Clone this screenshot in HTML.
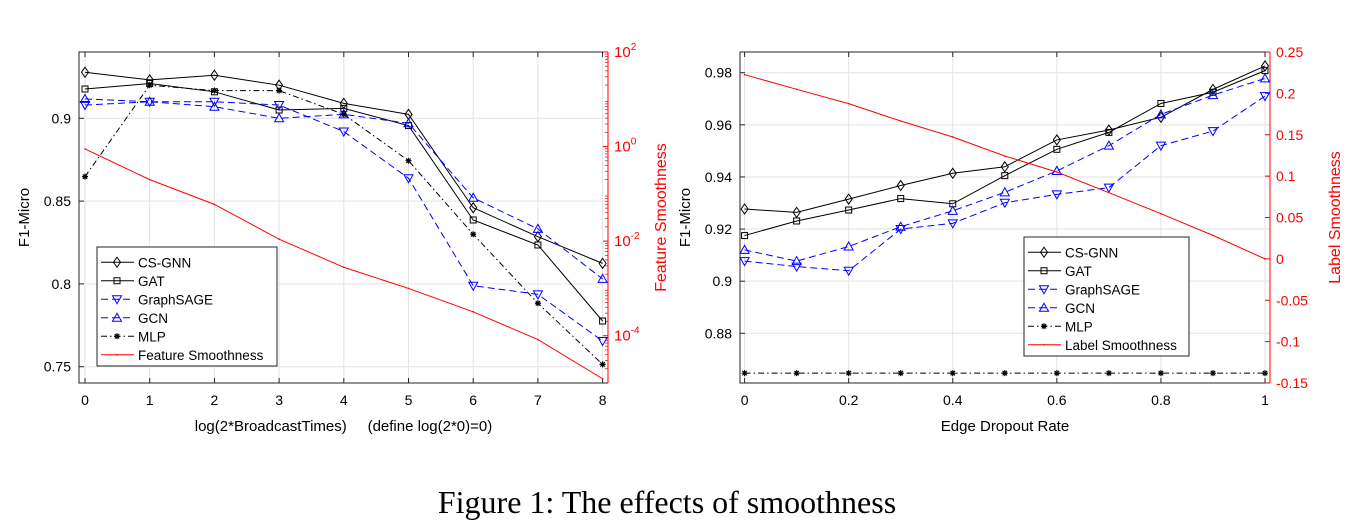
<!DOCTYPE html>
<html><head><meta charset="utf-8"><style>
body{margin:0;background:#fff;width:1360px;height:532px;overflow:hidden}
svg{display:block}
text{font-family:"Liberation Sans",sans-serif}
</style></head><body>
<svg id="s" width="1360" height="532" xmlns="http://www.w3.org/2000/svg">
<text x="667" y="513" text-anchor="middle" style="font-family:'Liberation Serif',serif" font-size="32" fill="#000">Figure 1: The effects of smoothness</text>
</svg>
<script>
// Left chart data
const leftX=[0,1,2,3,4,5,6,7,8];
const leftCSGNN=[0.9278,0.9232,0.926,0.920,0.909,0.9024,0.846,0.8285,0.8124];
const leftGAT=[0.9177,0.921,0.916,0.905,0.906,0.8956,0.8386,0.8235,0.7776];
const leftSAGE=[0.908,0.910,0.910,0.908,0.892,0.8638,0.7989,0.7937,0.7655];
const leftGCN=[0.9117,0.910,0.907,0.900,0.9024,0.897,0.852,0.8332,0.803];
const leftMLP=[0.8648,0.920,0.9167,0.9167,0.9024,0.8744,0.830,0.7883,0.7514];
const leftSmooth=[0.89,0.2,0.06,0.011,0.0028,0.001,0.00032,0.000083,0.0000123];
const leftYTicks=[0.75,0.8,0.85,0.9];
const leftY2Exps=[2,0,-2,-4];
// Right chart data
const rightX=[0,0.1,0.2,0.3,0.4,0.5,0.6,0.7,0.8,0.9,1];
const rightCSGNN=[0.9277,0.9264,0.9315,0.9367,0.9414,0.9439,0.9542,0.958,0.9629,0.9736,0.9826];
const rightGAT=[0.9175,0.9231,0.9273,0.9317,0.9297,0.9405,0.9506,0.9571,0.9682,0.9725,0.9808];
const rightSAGE=[0.9077,0.9056,0.904,0.920,0.9222,0.9301,0.9333,0.9359,0.952,0.9576,0.971];
const rightGCN=[0.912,0.9077,0.9133,0.9209,0.927,0.9341,0.9423,0.952,0.964,0.9714,0.9778];
const rightMLP=[0.8647,0.8647,0.8647,0.8647,0.8647,0.8647,0.8647,0.8647,0.8647,0.8647,0.8647];
const rightSmooth=[0.2226,0.2049,0.1876,0.1666,0.1473,0.1243,0.105,0.08,0.0546,0.0284,0.0];
const rightYTicks=[0.88,0.9,0.92,0.94,0.96,0.98];
const rightY2Ticks=[-0.15,-0.1,-0.05,0,0.05,0.1,0.15,0.2,0.25];
const rightXTicks=[0,0.2,0.4,0.6,0.8,1];

const svg=document.getElementById('s');
const NS='http://www.w3.org/2000/svg';
function el(tag,attrs,parent){const e=document.createElementNS(NS,tag);for(const k in attrs)e.setAttribute(k,attrs[k]);(parent||svg).appendChild(e);return e;}
function txt(x,y,s,attrs,parent){const e=el('text',Object.assign({x:x,y:y,'font-size':14,fill:'#000'},attrs),parent);e.textContent=s;return e;}

function marker(g,type,x,y,color){
  let m;
  if(type==='diamond')m=el('polygon',{points:`${x},${y-5} ${x+3.5},${y} ${x},${y+5} ${x-3.5},${y}`,fill:'none',stroke:color,'stroke-width':1},g);
  else if(type==='square')m=el('rect',{x:x-3,y:y-3,width:6,height:6,fill:'none',stroke:color,'stroke-width':1},g);
  else if(type==='down')m=el('polygon',{points:`${x-4.5},${y-3.5} ${x+4.5},${y-3.5} ${x},${y+4.5}`,fill:'none',stroke:color,'stroke-width':1},g);
  else if(type==='up')m=el('polygon',{points:`${x-4.5},${y+3.5} ${x+4.5},${y+3.5} ${x},${y-4.5}`,fill:'none',stroke:color,'stroke-width':1},g);
  else if(type==='star')m=el('path',{d:`M${x-3},${y}H${x+3}M${x},${y-3}V${y+3}M${x-2.2},${y-2.2}L${x+2.2},${y+2.2}M${x-2.2},${y+2.2}L${x+2.2},${y-2.2}`,stroke:color,'stroke-width':1.2},g);
  else m=el('circle',{cx:x,cy:y,r:0.8,fill:color},g);
  
  
}

function drawChart(cfg){
  const g=el('g',{});
  
  
  const L=cfg.L,R=cfg.R,T=cfg.T,B=cfg.B;
  const xs=v=>cfg.x0+(v-cfg.xmin)/(cfg.xmax-cfg.xmin)*(cfg.x1-cfg.x0);
  const ys=v=>B-(v-cfg.ymin)/(cfg.ymax-cfg.ymin)*(B-T);
  const y2=cfg.y2;
  cfg.xTicks.forEach(v=>{const l=el('line',{x1:xs(v),x2:xs(v),y1:T,y2:B,stroke:'#e3e3e3','stroke-width':1},g);});
  cfg.yTicks.forEach(v=>{const l=el('line',{x1:L,x2:R,y1:ys(v),y2:ys(v),stroke:'#e3e3e3','stroke-width':1},g);});
  const ax=el('path',{d:`M${R},${T}H${L}V${B}H${R}`,fill:'none',stroke:'#262626','stroke-width':1},g);
  
  const ra=el('line',{x1:R,x2:R,y1:T,y2:B,stroke:'#ff0000','stroke-width':1},g);
  
  cfg.xTicks.forEach(v=>{el('line',{x1:xs(v),x2:xs(v),y1:B,y2:B-5,stroke:'#262626'},g);el('line',{x1:xs(v),x2:xs(v),y1:T,y2:T+5,stroke:'#262626'},g);
    const t=txt(xs(v),B+22,String(v),{'text-anchor':'middle'},g);});
  cfg.yTicks.forEach(v=>{el('line',{x1:L,x2:L+5,y1:ys(v),y2:ys(v),stroke:'#262626'},g);
    const t=txt(L-8,ys(v)+5,String(v),{'text-anchor':'end'},g);});
  y2.ticks.forEach(v=>{const yy=y2.tickPos(v);el('line',{x1:R,x2:R-5,y1:yy,y2:yy,stroke:'#ff0000'},g);y2.label(R+6,yy,v,g);});
  if(y2.minor)y2.minor.forEach(yy=>el('line',{x1:R,x2:R-3,y1:yy,y2:yy,stroke:'#ff0000','stroke-width':0.7},g));
  const xl=txt((L+R)/2,B+48,cfg.xlabel,{'text-anchor':'middle','font-size':15},g);
  
  const yl=txt(0,0,'F1-Micro',{'text-anchor':'middle','font-size':15,transform:`translate(${L-50},${(T+B)/2}) rotate(-90)`},g);
  
  const y2l=txt(0,0,y2.title,{'text-anchor':'middle','font-size':16,fill:'#ff0000',transform:`translate(${R+y2.titleOff},${(T+B)/2}) rotate(-90)`},g);
  
  cfg.series.forEach(s=>{
    const sg=el('g',{},g);
    
    
    const pts=cfg.xs.map((xv,i)=>[xs(xv),s.right?y2.scale(s.data[i]):ys(s.data[i])]);
    const p=el('polyline',{points:pts.map(p=>p.join(',')).join(' '),fill:'none',stroke:s.color,'stroke-width':1,'stroke-dasharray':s.dash||'none'},sg);
    
    pts.forEach(pt=>marker(sg,s.marker,pt[0],pt[1],s.color));
  });
  const lg=el('g',{},g);
  
  
  const lb=cfg.legend;
  el('rect',{x:lb.x,y:lb.y,width:lb.w,height:lb.h,fill:'#fff',stroke:'#262626','stroke-width':1},lg);
  const step=(lb.h-8)/cfg.series.length;
  cfg.series.forEach((s,i)=>{
    const yy=lb.y+6+step*(i+0.5);
    const eg=el('g',{},lg);
    
    
    el('line',{x1:lb.x+4,x2:lb.x+37,y1:yy,y2:yy,stroke:s.color,'stroke-width':1,'stroke-dasharray':s.dash||'none'},eg);
    marker(eg,s.marker,lb.x+20,yy,s.color);
    txt(lb.x+41,yy+5,s.label,{'font-size':13.5},eg);
  });
}

function supLabel(x,y,v,g){
  const t=el('text',{x:x,y:y+5,'font-size':15,fill:'#ff0000'},g);
  
  const a=document.createElementNS(NS,'tspan');a.textContent='10';t.appendChild(a);
  const b=document.createElementNS(NS,'tspan');b.setAttribute('dy','-7');b.setAttribute('font-size','10');b.textContent=String(v);t.appendChild(b);
}

(function(){
  const T=52,B=383,lmin=-5,lmax=2;
  const expPos=e=>B-(e-lmin)/(lmax-lmin)*(B-T);
  const minor=[];
  for(let d=lmin;d<lmax;d++)for(let k=2;k<10;k++)minor.push(expPos(d+Math.log10(k)));
  const per=(366.7-118.3)/0.15;
  drawChart({name:'left-chart',L:79,R:608,T:T,B:B,x0:85,x1:602.6,xmin:0,xmax:8,
    ymin:0.75-(B-366.7)/per, ymax:0.9+(118.3-T)/per,
    xs:leftX,xTicks:leftX,yTicks:leftYTicks,xlabel:'log(2*BroadcastTimes)\u00a0\u00a0\u00a0\u00a0\u00a0(define log(2*0)=0)',
    y2:{scale:v=>expPos(Math.log10(v)),tickPos:expPos,ticks:leftY2Exps,minor:minor,title:'Feature Smoothness',titleOff:58,
      label:(x,y,v,g)=>supLabel(x,y,v,g)},
    series:[
      {key:'cs-gnn',label:'CS-GNN',data:leftCSGNN,color:'#000',marker:'diamond'},
      {key:'gat',label:'GAT',data:leftGAT,color:'#000',marker:'square'},
      {key:'graphsage',label:'GraphSAGE',data:leftSAGE,color:'#0000ff',marker:'down',dash:'7,4'},
      {key:'gcn',label:'GCN',data:leftGCN,color:'#0000ff',marker:'up',dash:'7,4'},
      {key:'mlp',label:'MLP',data:leftMLP,color:'#000',marker:'star',dash:'6,3,1.5,3'},
      {key:'feature-smoothness',label:'Feature Smoothness',data:leftSmooth,color:'#ff0000',marker:'dot',right:true}
    ],legend:{x:97,y:247,w:180,h:119}});
})();
(function(){
  const T=52,B=383;
  const per=(333.3-72.7)/0.1;
  const s2=v=>B-(v+0.15)/0.4*(B-T);
  drawChart({name:'right-chart',L:740,R:1270,T:T,B:B,x0:744.6,x1:1265,xmin:0,xmax:1,
    ymin:0.88-(B-333.3)/per, ymax:0.98+(72.7-T)/per,
    xs:rightX,xTicks:rightXTicks,yTicks:rightYTicks,xlabel:'Edge Dropout Rate',
    y2:{scale:s2,tickPos:s2,ticks:rightY2Ticks,title:'Label Smoothness',titleOff:70,
      label:(x,y,v,g)=>{const t=txt(x,y+5,String(v),{'font-size':14,fill:'#ff0000'},g);}},
    series:[
      {key:'cs-gnn',label:'CS-GNN',data:rightCSGNN,color:'#000',marker:'diamond'},
      {key:'gat',label:'GAT',data:rightGAT,color:'#000',marker:'square'},
      {key:'graphsage',label:'GraphSAGE',data:rightSAGE,color:'#0000ff',marker:'down',dash:'7,4'},
      {key:'gcn',label:'GCN',data:rightGCN,color:'#0000ff',marker:'up',dash:'7,4'},
      {key:'mlp',label:'MLP',data:rightMLP,color:'#000',marker:'star',dash:'6,3,1.5,3'},
      {key:'label-smoothness',label:'Label Smoothness',data:rightSmooth,color:'#ff0000',marker:'dot',right:true}
    ],legend:{x:1024,y:237,w:165,h:119}});
})();
</script>
</body></html>
